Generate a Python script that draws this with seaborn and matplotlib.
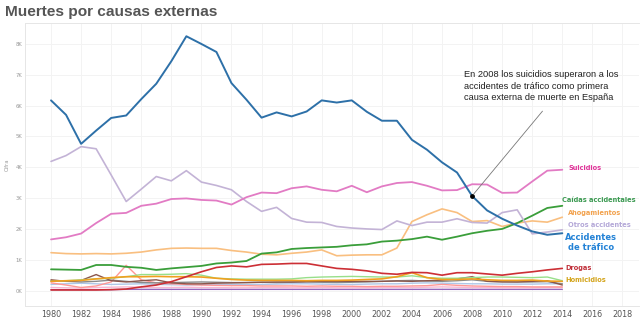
import numpy as np
import pandas as pd
import matplotlib
matplotlib.use("Agg")
import matplotlib.pyplot as plt
import seaborn as sns

sns.set_theme(style="white")
plt.rcParams["font.family"] = ["DejaVu Sans"]

years = list(range(1980, 2015))

# Deaths per year, in thousands
trafico = [6.17, 5.70, 4.76, 5.19, 5.60, 5.68, 6.21, 6.71, 7.44, 8.25,
           8.00, 7.74, 6.73, 6.19, 5.61, 5.78, 5.65, 5.81, 6.17, 6.10,
           6.17, 5.80, 5.51, 5.51, 4.89, 4.57, 4.16, 3.83, 3.07, 2.60,
           2.33, 2.11, 1.92, 1.81, 1.86]
suicidios = [1.66, 1.73, 1.85, 2.19, 2.49, 2.52, 2.75, 2.82, 2.97, 2.99,
             2.94, 2.92, 2.79, 3.03, 3.18, 3.16, 3.32, 3.38, 3.27, 3.22,
             3.40, 3.19, 3.38, 3.49, 3.52, 3.40, 3.25, 3.26, 3.45, 3.44,
             3.17, 3.18, 3.54, 3.89, 3.92]
otros = [4.19, 4.38, 4.67, 4.60, 3.75, 2.89, 3.29, 3.70, 3.56, 3.89,
         3.52, 3.41, 3.27, 2.89, 2.57, 2.70, 2.34, 2.22, 2.21, 2.08,
         2.03, 2.00, 1.98, 2.26, 2.11, 2.22, 2.22, 2.33, 2.21, 2.19,
         2.53, 2.62, 1.84, 1.90, 1.97]
caidas = [0.69, 0.68, 0.67, 0.83, 0.83, 0.77, 0.74, 0.67, 0.72, 0.76,
          0.80, 0.88, 0.91, 0.96, 1.20, 1.24, 1.35, 1.38, 1.40, 1.42,
          1.47, 1.50, 1.59, 1.62, 1.67, 1.75, 1.65, 1.75, 1.86, 1.94,
          2.00, 2.19, 2.43, 2.68, 2.75]
ahogamientos = [1.23, 1.20, 1.19, 1.20, 1.19, 1.21, 1.25, 1.32, 1.37, 1.38,
                1.37, 1.37, 1.30, 1.25, 1.18, 1.16, 1.21, 1.25, 1.32, 1.13,
                1.15, 1.16, 1.16, 1.38, 2.24, 2.46, 2.65, 2.53, 2.24, 2.27,
                2.08, 2.19, 2.26, 2.22, 2.38]
drogas = [0.02, 0.02, 0.02, 0.02, 0.03, 0.05, 0.12, 0.18, 0.29, 0.45,
          0.61, 0.75, 0.80, 0.77, 0.85, 0.86, 0.88, 0.88, 0.80, 0.72,
          0.69, 0.64, 0.56, 0.53, 0.59, 0.58, 0.50, 0.58, 0.58, 0.54,
          0.50, 0.56, 0.61, 0.67, 0.72]
homicidios = [0.30, 0.32, 0.33, 0.38, 0.42, 0.45, 0.45, 0.46, 0.45, 0.45,
              0.44, 0.40, 0.36, 0.34, 0.33, 0.33, 0.33, 0.32, 0.33, 0.33,
              0.34, 0.36, 0.38, 0.45, 0.58, 0.42, 0.36, 0.36, 0.38, 0.35,
              0.33, 0.33, 0.34, 0.31, 0.30]

# Smaller causes without a label
menor_verde = [0.30, 0.32, 0.35, 0.38, 0.40, 0.45, 0.52, 0.52, 0.53, 0.55,
               0.50, 0.40, 0.38, 0.37, 0.37, 0.37, 0.38, 0.42, 0.44, 0.45,
               0.46, 0.45, 0.44, 0.44, 0.48, 0.42, 0.40, 0.40, 0.42, 0.44,
               0.44, 0.43, 0.42, 0.44, 0.32]
menor_marron = [0.35, 0.30, 0.33, 0.52, 0.32, 0.28, 0.32, 0.35, 0.25, 0.22,
                0.22, 0.24, 0.25, 0.26, 0.27, 0.28, 0.28, 0.29, 0.30, 0.30,
                0.30, 0.30, 0.30, 0.31, 0.30, 0.32, 0.34, 0.38, 0.45, 0.30,
                0.28, 0.28, 0.30, 0.32, 0.18]
menor_gris = [0.32, 0.30, 0.28, 0.30, 0.34, 0.30, 0.26, 0.25, 0.26, 0.27,
              0.28, 0.27, 0.26, 0.26, 0.27, 0.26, 0.27, 0.28, 0.27, 0.26,
              0.27, 0.28, 0.30, 0.32, 0.33, 0.31, 0.30, 0.32, 0.35, 0.30,
              0.29, 0.28, 0.28, 0.29, 0.22]
menor_rojo = [0.25, 0.18, 0.10, 0.15, 0.28, 0.82, 0.35, 0.25, 0.22, 0.20,
              0.18, 0.17, 0.16, 0.16, 0.15, 0.15, 0.15, 0.14, 0.15, 0.14,
              0.14, 0.13, 0.14, 0.14, 0.15, 0.16, 0.20, 0.17, 0.15, 0.14,
              0.13, 0.13, 0.12, 0.12, 0.12]
menor_azul = [0.20, 0.22, 0.24, 0.22, 0.20, 0.21, 0.22, 0.20, 0.19, 0.18,
              0.19, 0.20, 0.20, 0.19, 0.20, 0.21, 0.22, 0.22, 0.21, 0.20,
              0.20, 0.21, 0.22, 0.22, 0.24, 0.25, 0.24, 0.23, 0.22, 0.22,
              0.21, 0.21, 0.21, 0.22, 0.22]
menor_rosa = [0.10, 0.09, 0.08, 0.10, 0.11, 0.12, 0.11, 0.10, 0.10, 0.11,
              0.10, 0.10, 0.09, 0.09, 0.10, 0.10, 0.09, 0.09, 0.10, 0.09,
              0.09, 0.09, 0.10, 0.10, 0.10, 0.11, 0.12, 0.11, 0.10, 0.10,
              0.09, 0.09, 0.09, 0.10, 0.10]
menor_morado = [0.03, 0.03, 0.03, 0.03, 0.03, 0.04, 0.04, 0.04, 0.04, 0.04,
                0.04, 0.04, 0.04, 0.04, 0.04, 0.04, 0.04, 0.04, 0.04, 0.04,
                0.04, 0.04, 0.04, 0.04, 0.04, 0.04, 0.04, 0.04, 0.04, 0.04,
                0.04, 0.04, 0.04, 0.04, 0.04]

xticks = list(range(1980, 2020, 2))
yticks = [0, 1, 2, 3, 4, 5, 6, 7, 8]
ytick_labels = ["0K", "1K", "2K", "3K", "4K", "5K", "6K", "7K", "8K"]

fig = plt.figure(figsize=(6.4, 3.21), dpi=100)
ax = fig.add_axes([25 / 640, 15 / 321, 614 / 640, 283 / 321])

minor = [
    (menor_morado, "#9467bd"), (menor_rosa, "#f7b6d2"), (menor_azul, "#aec7e8"),
    (menor_rojo, "#ff9896"), (menor_gris, "#8a8a8a"), (menor_marron, "#8c564b"),
    (menor_verde, "#98df8a"),
]
for vals, col in minor:
    sns.lineplot(x=years, y=vals, ax=ax, color=col, lw=1.0, legend=False)

main = [
    (homicidios, "#f0a020", 1.2), (drogas, "#cc2f35", 1.2),
    (ahogamientos, "#f9bf80", 1.2), (caidas, "#3a9e3a", 1.3),
    (otros, "#c3b3d6", 1.2), (suicidios, "#e27bc4", 1.3),
    (trafico, "#2d70a8", 1.4),
]
for vals, col, lw in main:
    sns.lineplot(x=years, y=vals, ax=ax, color=col, lw=lw, legend=False)

ax.set_xlim(1978.27, 2019.1)
ax.set_ylim(-0.5, 8.68)
ax.set_xticks(xticks)
ax.set_xticklabels([str(y) for y in xticks], fontsize=5.8, color="#555555")
ax.set_yticks(yticks)
ax.set_yticklabels(ytick_labels, fontsize=3.8, color="#999999")
ax.tick_params(axis="both", length=0, pad=2)
ax.tick_params(axis="x", pad=3)
ax.set_ylabel("Cifra", fontsize=3.8, color="#999999", labelpad=4)
ax.set_xlabel("")
ax.grid(True, color="#f3f3f3", lw=0.7)
for side in ["top", "left", "bottom"]:
    ax.spines[side].set_color("#e6e6e6")
    ax.spines[side].set_linewidth(0.7)
ax.spines["right"].set_visible(False)

# Annotation pointing at the 2008 traffic value
i08 = years.index(2008)
ax.scatter([2008], [trafico[i08]], s=6, color="black", zorder=5)
ax.annotate("", xy=(2008, trafico[i08]), xytext=(2012.8, 5.89),
            arrowprops=dict(arrowstyle="-", color="#777777", lw=0.6))
ax.text(2007.45, 7.15,
        "En 2008 los suicidios superaron a los\naccidentes de tráfico como primera\ncausa externa de muerte en España",
        fontsize=6.7, family="Liberation Sans", color="#222222",
        va="top", ha="left", linespacing=1.35)

# End labels
lab = dict(fontweight="bold", va="center", ha="left")
ax.text(2014.4, 3.97, "Suicidios", fontsize=4.8, color="#e0359a", **lab)
ax.text(2013.95, 2.95, "Caídas accidentales", fontsize=4.8, color="#3c9a52", **lab)
ax.text(2014.4, 2.51, "Ahogamientos", fontsize=4.8, color="#f2a24e", **lab)
ax.text(2014.4, 2.12, "Otros accidentes", fontsize=4.8, color="#b4a8d8", **lab)
ax.text(2015.9, 1.56, "Accidentes\nde tráfico", fontsize=6.0, color="#2382d6",
        fontweight="bold", va="center", ha="center", linespacing=1.1)
ax.text(2014.2, 0.73, "Drogas", fontsize=4.8, color="#c0303a", **lab)
ax.text(2014.2, 0.34, "Homicidios", fontsize=4.8, color="#d4a51c", **lab)

fig.text(5 / 640, 1 - 12 / 321, "Muertes por causas externas", fontsize=11.1,
         family="Liberation Sans", fontweight="bold", color="#555555",
         va="center", ha="left")

fig.savefig("out.png", dpi=100)
